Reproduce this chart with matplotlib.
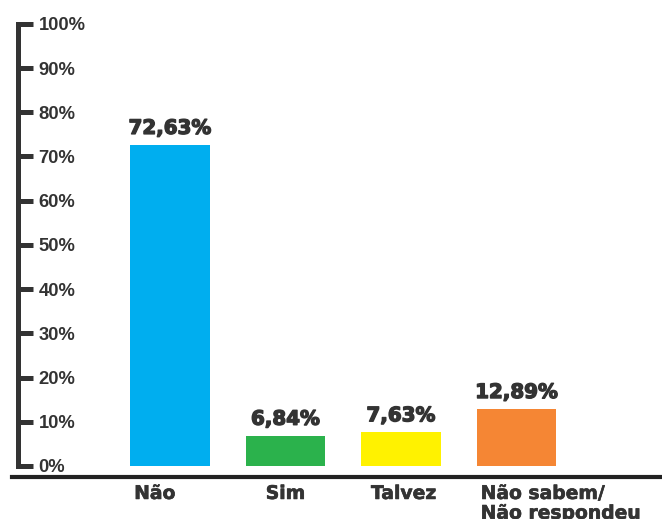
import matplotlib
matplotlib.use("Agg")
import matplotlib.pyplot as plt
import matplotlib.patheffects as pe
from matplotlib.transforms import blended_transform_factory, offset_copy

categories = ["Não", "Sim", "Talvez", "Não sabem/\nNão respondeu"]
values = [72.63, 6.84, 7.63, 12.89]
value_labels = ["72,63%", "6,84%", "7,63%", "12,89%"]
colors = ["#00AEEF", "#2BB24C", "#FFF200", "#F58634"]
yticks = [0, 10, 20, 30, 40, 50, 60, 70, 80, 90, 100]
ytick_labels = [f"{v}%" for v in yticks]

TEXT = "#333333"
fig = plt.figure(figsize=(6.62, 5.19), dpi=100)
ax = fig.add_axes([18 / 662, 42 / 519, 1 - 18 / 662, (477 - 15) / 519])

x = [0, 1.0, 2.0, 3.0]
ax.bar(x, values, width=0.69, color=colors, zorder=2)
ax.set_xlim(-1.316, 4.26)
ax.set_ylim(-2.5, 102)

heavy = [pe.withStroke(linewidth=1.0, foreground=TEXT)]
for xi, v, lab in zip(x, values, value_labels):
    ax.annotate(lab, (xi, v), xytext=(0, 5), textcoords="offset points",
                ha="center", va="bottom", fontsize=14.3, fontweight="bold",
                color=TEXT, family="DejaVu Sans", path_effects=heavy)

for s in ["top", "right"]:
    ax.spines[s].set_visible(False)
ax.spines["left"].set_bounds(0, 100)
ax.spines["left"].set_linewidth(3.6)
ax.spines["left"].set_color(TEXT)
ax.spines["bottom"].set_visible(False)
ax.axhline(-2.5, xmin=-0.01, xmax=1, color="#222222", lw=3, clip_on=False)

ax.set_yticks(yticks)
ax.set_yticklabels(ytick_labels)
ax.tick_params(axis="y", direction="in", length=10.5, width=3.6, color=TEXT,
               pad=-14.8, labelsize=13.2, labelcolor=TEXT)
for t in ax.get_yticklabels():
    t.set_ha("left")
    t.set_fontweight("bold")
    t.set_family("Liberation Sans")
ax.set_xticks([])

trans = offset_copy(blended_transform_factory(ax.transData, ax.transAxes),
                    fig=fig, x=0, y=-5, units="points")
halign = ["left", "center", "left", "left"]
cat_effect = [pe.withStroke(linewidth=0.45, foreground=TEXT)]
for xi, cat, ha in zip(x, categories, halign):
    xpos = xi - 0.31 if ha == "left" else xi
    if xi == 2.0:
        xpos = xi - 0.26
    ax.text(xpos, 0, cat, transform=trans, ha=ha, va="top", fontsize=13.5,
            fontweight="bold", color=TEXT, family="DejaVu Sans",
            linespacing=1.05, multialignment="left", path_effects=cat_effect)

fig.savefig("out.png", dpi=100)
